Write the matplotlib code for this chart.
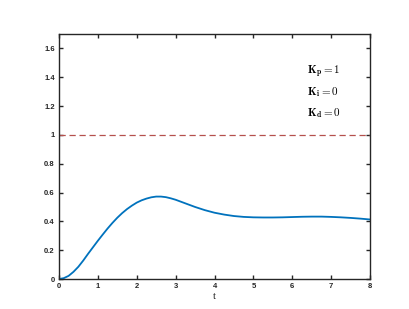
import matplotlib
matplotlib.use("Agg")
import matplotlib.pyplot as plt
from matplotlib.ticker import FuncFormatter

# step response
t = [0.0, 0.125, 0.25, 0.375, 0.5, 0.625, 0.75, 0.875, 1.0, 1.125, 1.25, 1.375,
     1.5, 1.625, 1.75, 1.875, 2.0, 2.125, 2.25, 2.375, 2.5, 2.625, 2.75, 2.875,
     3.0, 3.25, 3.5, 3.75, 4.0, 4.25, 4.5, 4.75, 5.0, 5.25, 5.5, 5.75,
     6.0, 6.25, 6.5, 6.75, 7.0, 7.25, 7.5, 7.75, 8.0]
y = [0.0, 0.006, 0.022, 0.05, 0.085, 0.128, 0.175, 0.22, 0.265, 0.308, 0.35, 0.389,
     0.425, 0.457, 0.485, 0.509, 0.53, 0.546, 0.558, 0.567, 0.572, 0.572, 0.568, 0.56,
     0.55, 0.525, 0.5, 0.478, 0.46, 0.447, 0.437, 0.431, 0.428, 0.427, 0.427, 0.428,
     0.43, 0.432, 0.433, 0.433, 0.431, 0.428, 0.424, 0.419, 0.413]
setpoint = 1
gains = [r"$\mathbf{K_p}=\mathbf{1}$", r"$\mathbf{K_i}=\mathbf{0}$", r"$\mathbf{K_d}=\mathbf{0}$"]
xticks = [0, 1, 2, 3, 4, 5, 6, 7, 8]
yticks = [0, 0.2, 0.4, 0.6, 0.8, 1.0, 1.2, 1.4, 1.6]

plt.rcParams["mathtext.fontset"] = "cm"
plt.rcParams["font.family"] = ["Liberation Sans", "DejaVu Sans"]

fig = plt.figure(figsize=(4.09, 3.09), dpi=100)
ax = fig.add_axes([0.144, 0.097, 0.761, 0.793])

ax.plot(t, y, color="#0072BD", lw=1.3)
ax.axhline(setpoint, color="#b5504d", lw=0.9, ls=(0, (5, 3)))

for i, s in enumerate(gains):
    ax.text(6.38, 1.44 - i * 0.145, s, fontsize=8, va="center", ha="left")

ax.set_xlim(0, 8)
ax.set_ylim(0, 1.7)
ax.set_xticks(xticks)
ax.set_yticks(yticks)
ax.yaxis.set_major_formatter(FuncFormatter(lambda v, p: f"{v:g}"))

grey = "#262626"
for sp in ax.spines.values():
    sp.set_color(grey)
    sp.set_linewidth(1.0)
ax.tick_params(direction="in", length=3, width=1.0, color=grey,
               top=True, right=True, labelsize=5.5, labelcolor=grey, pad=3)
for lab in ax.get_xticklabels() + ax.get_yticklabels():
    lab.set_fontweight("bold")

ax.set_xlabel("t", family="Liberation Serif", fontsize=7.5, color=grey, labelpad=1)

fig.savefig("out.png", dpi=100)
